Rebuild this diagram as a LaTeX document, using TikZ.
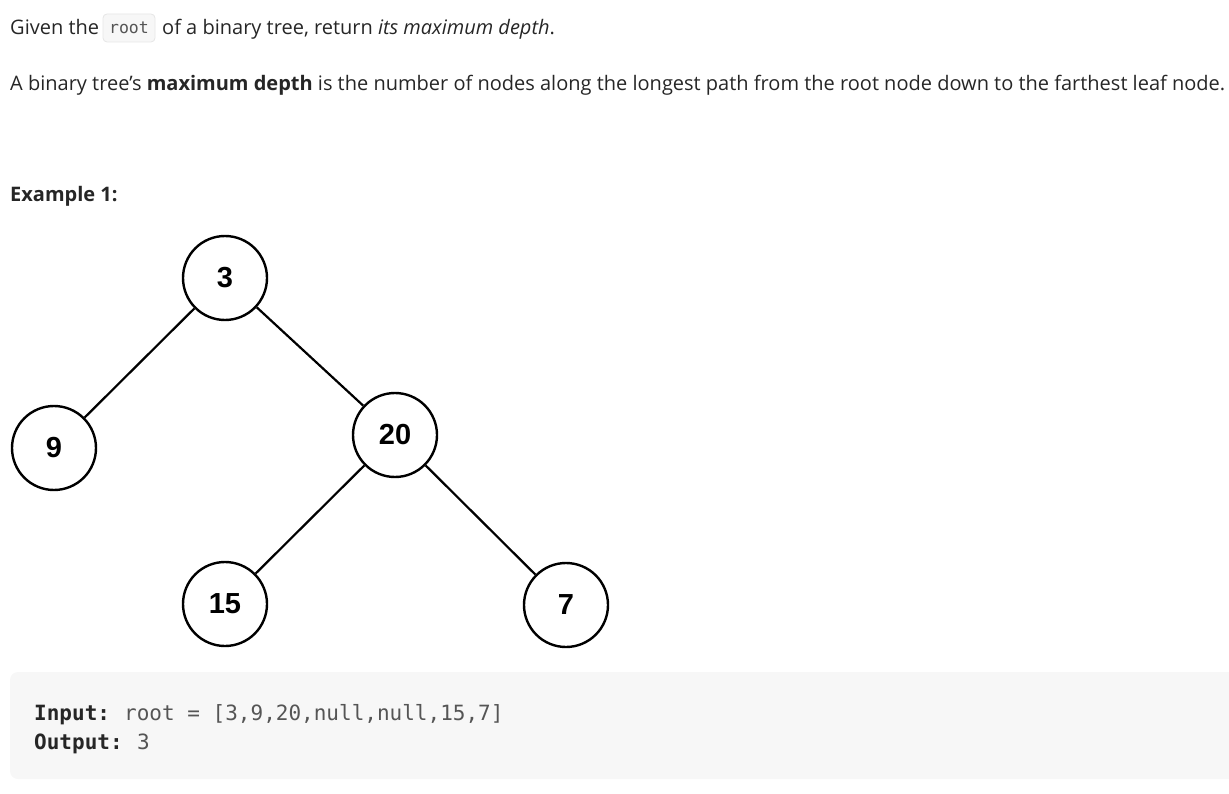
\documentclass[tikz,border=0pt]{standalone}
\usepackage{fontspec}
\setmainfont{Open Sans}
\newfontfamily\codefont{DejaVu Sans Mono}
\newfontfamily\numfont{Liberation Sans}
\definecolor{txt}{HTML}{262626}
\definecolor{codebg}{HTML}{F7F7F7}
\definecolor{codeborder}{HTML}{E6E6E6}
\definecolor{codetxt}{HTML}{555555}
\tikzset{
  treenode/.style={circle, draw=black, line width=2.4pt, minimum size=84pt, inner sep=0pt, font=\numfont\bfseries\fontsize{29}{29}\selectfont},
  treeedge/.style={draw=black, line width=2.2pt},
  bodytext/.style={anchor=base west, inner sep=0pt, text=txt, font=\fontsize{20}{24}\selectfont},
  codetext/.style={anchor=base west, inner sep=0pt, font=\codefont\fontsize{21}{24}\selectfont},
}
\begin{document}
\begin{tikzpicture}[x=1pt,y=-1pt]
\useasboundingbox (0,0) rectangle (1229,794);
% line 1
\node[bodytext] (l1a) at (10,35) {Given the};
\node[draw=codeborder, fill=codebg, rounded corners=4pt, line width=0.8pt, minimum width=52pt, minimum height=28pt, inner sep=0pt, text=codetxt, font=\codefont\fontsize{16.5}{18}\selectfont] (inl) at (129,28) {root};
\node[bodytext] (l1b) at (162,35) {of a binary tree, return \textit{its maximum depth}.};
% line 2
\node[bodytext] (l2) at (10,91) {A binary tree{\char"27}s \textbf{maximum depth} is the number of nodes along the longest path from the root node down to the farthest leaf node.};
% Example heading
\node[bodytext, font=\bfseries\fontsize{20}{24}\selectfont] (ex) at (10,202) {Example 1:};
% tree
\node[treenode] (n3) at (225,278) {3};
\node[treenode] (n9) at (54,448) {9};
\node[treenode] (n20) at (395,435) {20};
\node[treenode] (n15) at (225,604) {15};
\node[treenode] (n7) at (566,605) {7};
\draw[treeedge] (n3) -- (n9);
\draw[treeedge] (n3) -- (n20);
\draw[treeedge] (n20) -- (n15);
\draw[treeedge] (n20) -- (n7);
% code block
\fill[codebg, rounded corners=8pt] (10,672) rectangle (1250,779);
\node[codetext, text=txt] (inlab) at (34,720) {\bfseries Input:};
\node[codetext, text=codetxt] (inval) at (124,720) {root = [3,9,20,null,null,15,7]};
\node[codetext, text=txt] (outlab) at (34,749) {\bfseries Output:};
\node[codetext, text=codetxt] (outval) at (137,749) {3};
\end{tikzpicture}
\end{document}
